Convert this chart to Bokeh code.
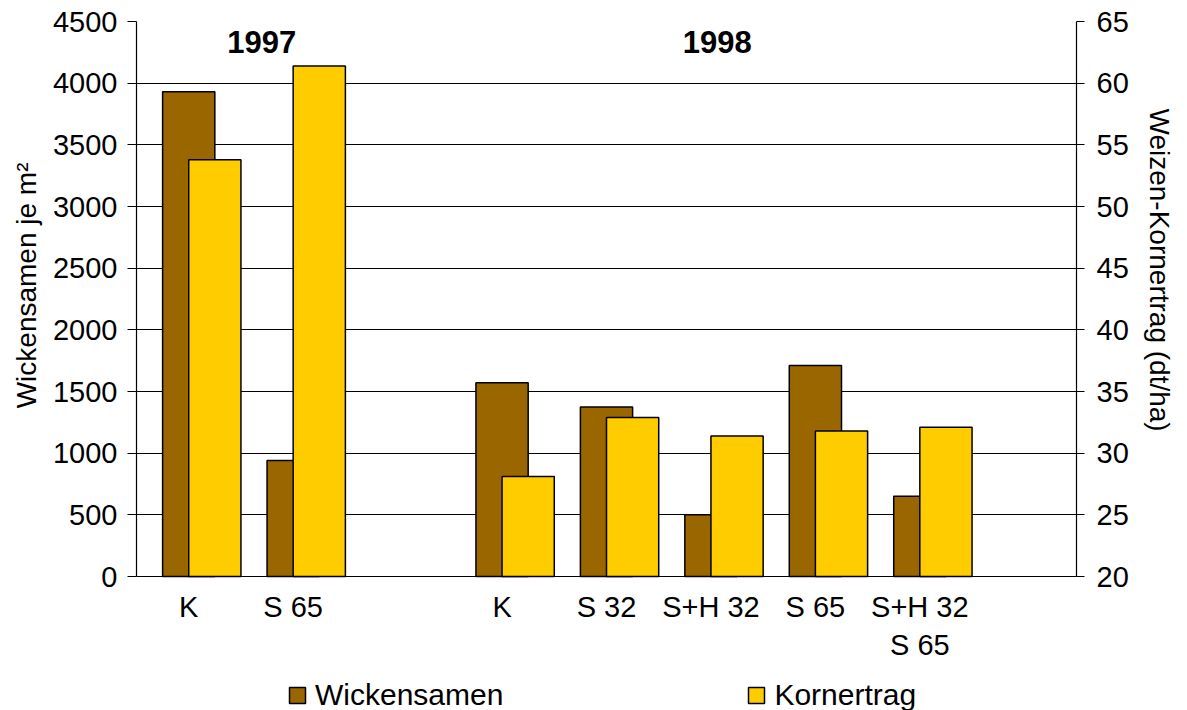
from bokeh.plotting import figure
from bokeh.models import Range1d, LinearAxis, FixedTicker, Label, Legend, LegendItem, Title
from bokeh.embed import file_html
from bokeh.resources import INLINE

# ---- data ----
slots = [0, 1, 3, 4, 5, 6, 7]          # category slots (slot 2 and 8 empty)
labels = ["K", "S 65", "K", "S 32", "S+H 32", "S 65", "S+H 32\nS 65"]
wickensamen = [3930, 940, 1570, 1375, 500, 1710, 650]       # left axis
kornertrag = [53.8, 61.4, 28.1, 32.9, 31.4, 31.8, 32.1]     # right axis
years = ["1997", "1998"]
year_pos = [0.70, 5.06]
left_ticks = list(range(0, 4501, 500))
right_ticks = list(range(20, 66, 5))
left_lim = (0, 4500)
right_lim = (20, 65)
left_title = "Wickensamen je m²"
right_title = "Weizen-Kornertrag (dt/ha)"

FONT = "Liberation Sans"
BROWN = "#996600"
YELLOW = "#FFCC00"

# geometry (pixels): plot area 21..576, frame extends to 710 to hold the legend
TOP, ZERO, BOTTOM = 21, 576, 710
ext = (BOTTOM - ZERO) / (ZERO - TOP)
l_lo = left_lim[0] - ext * (left_lim[1] - left_lim[0])
r_lo = right_lim[0] - ext * (right_lim[1] - right_lim[0])

p = figure(frame_width=940, frame_height=BOTTOM - TOP,
           x_range=Range1d(-0.5, 8.5), y_range=Range1d(l_lo, left_lim[1]),
           output_backend="svg", toolbar_location=None,
           min_border_left=136, min_border_top=TOP, min_border_right=111,
           min_border_bottom=0)
p.outline_line_color = None
p.background_fill_color = "white"
p.border_fill_color = "white"

p.extra_y_ranges = {"korn": Range1d(r_lo, right_lim[1])}

r1 = p.vbar(x=slots, width=0.5, top=wickensamen, bottom=left_lim[0],
            fill_color=BROWN, line_color="black", line_width=1.5)
r2 = p.vbar(x=[s + 0.25 for s in slots], width=0.5, top=kornertrag, bottom=right_lim[0],
            y_range_name="korn", fill_color=YELLOW, line_color="black", line_width=1.5)

# left axis
ly = p.yaxis[0]
ly.ticker = FixedTicker(ticks=left_ticks)
ly.bounds = left_lim
ly.major_tick_out = 9
ly.major_tick_in = 0
ly.minor_tick_out = 0
ly.minor_tick_in = 0
ly.major_label_standoff = 10

# right axis
ry = LinearAxis(y_range_name="korn", ticker=FixedTicker(ticks=right_ticks),
                bounds=right_lim)
ry.major_tick_out = 8
ry.major_tick_in = 0
ry.minor_tick_out = 0
ry.minor_tick_in = 0
ry.major_label_standoff = 12
p.add_layout(ry, "right")

# x axis, pinned at y = 0
xa = p.xaxis[0]
xa.fixed_location = left_lim[0]
xa.ticker = FixedTicker(ticks=slots)
xa.major_label_overrides = {s: l for s, l in zip(slots, labels)}
xa.major_tick_out = 0
xa.major_tick_in = 0
xa.minor_tick_out = 0
xa.minor_tick_in = 0
xa.major_label_standoff = 14

for ax in [ly, ry, xa]:
    ax.axis_line_color = "black"
    ax.axis_line_width = 1.2
    ax.major_tick_line_color = "black"
    ax.major_tick_line_width = 1.2
    ax.major_label_text_font = FONT
    ax.major_label_text_font_size = "29px"
    ax.major_label_text_color = "black"

# axis titles as side-panel titles (so they can be placed along the axis)
p.add_layout(Title(text=left_title, align="right", offset=141,
                   vertical_align="bottom", standoff=16,
                   text_font=FONT, text_font_size="28px",
                   text_font_style="normal", text_color="black"), "left")
p.add_layout(Title(text=right_title, align="left", offset=87,
                   vertical_align="bottom", standoff=24,
                   text_font=FONT, text_font_size="28px",
                   text_font_style="normal", text_color="black"), "right")

p.xgrid.grid_line_color = None
p.ygrid.ticker = FixedTicker(ticks=left_ticks)
p.ygrid.grid_line_color = "black"
p.ygrid.grid_line_width = 1

for yr, xp in zip(years, year_pos):
    p.add_layout(Label(x=xp, y=4330, text=yr, text_align="center",
                       text_baseline="alphabetic", text_font=FONT,
                       text_font_size="31px", text_font_style="bold",
                       text_color="black"))

legend = Legend(items=[LegendItem(label="Wickensamen", renderers=[r1]),
                       LegendItem(label="Kornertrag", renderers=[r2])],
                orientation="horizontal", location=(151, -2),
                glyph_width=20, glyph_height=20, label_standoff=8,
                spacing=243, padding=0, margin=0,
                border_line_color=None, background_fill_alpha=0,
                label_text_font=FONT, label_text_font_size="30px",
                label_text_color="black")
p.add_layout(legend, "center")

open("out.html", "w").write(file_html(p, INLINE))
